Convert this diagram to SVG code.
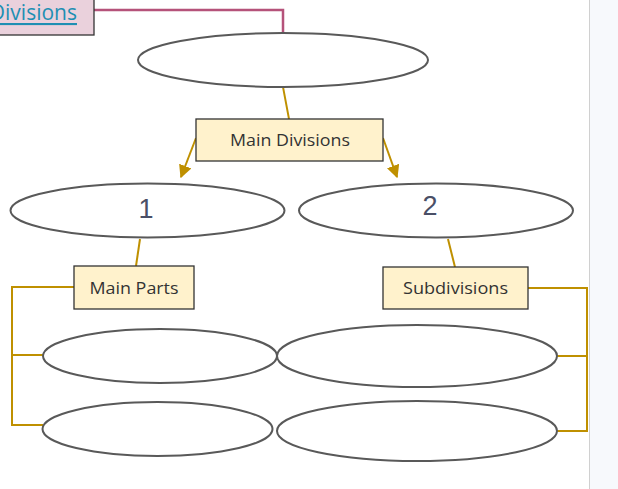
<svg xmlns="http://www.w3.org/2000/svg" width="618" height="489" viewBox="0 0 618 489">
<style>
.ell{fill:#ffffff;stroke:#595959;stroke-width:2}
.box{fill:#fff2cc;stroke:#333333;stroke-width:1.3}
.lbl{font-family:"Open Sans","Noto Sans",sans-serif;font-size:16px;fill:#333333;text-anchor:middle;dominant-baseline:central}
.num{font-family:"Liberation Sans",Arial,sans-serif;font-size:27px;fill:#4a4f66;text-anchor:middle;dominant-baseline:central}
.gold{fill:none;stroke:#bf9000;stroke-width:2}
</style>
<defs>
<marker id="arr" viewBox="0 0 10 10" refX="9" refY="5" markerWidth="6.500" markerHeight="6.500" orient="auto" markerUnits="strokeWidth">
<path d="M0,0 L10,5 L0,10 z" fill="#bf9000"/>
</marker>
</defs>
<rect x="0" y="0" width="618" height="489" fill="#ffffff"/>
<rect x="589.500" y="0" width="29" height="489" fill="#f7f9fc"/>
<line x1="589.500" y1="0" x2="589.500" y2="489" stroke="#d0d0d0" stroke-width="1"/>

<g id="connectors">
<polyline points="94,10 283,10 283,33" fill="none" stroke="#b5527a" stroke-width="2.500"/>
<line x1="283" y1="87" x2="289" y2="119" class="gold"/>
<line x1="196" y1="138" x2="181" y2="177" class="gold" marker-end="url(#arr)"/>
<line x1="383" y1="138" x2="397" y2="177" class="gold" marker-end="url(#arr)"/>
<line x1="140" y1="239" x2="136" y2="266" class="gold"/>
<line x1="448" y1="239" x2="455" y2="267" class="gold"/>
<polyline points="74,287 12,287 12,425 43,425" class="gold"/>
<line x1="12" y1="355" x2="43" y2="355" class="gold"/>
<polyline points="528,288 587,288 587,431 557,431" class="gold"/>
<line x1="587" y1="356" x2="557" y2="356" class="gold"/>
</g>

<g id="divisions-link">
<rect x="-10" y="-10" width="104" height="45" fill="#ead1dc" stroke="#333333" stroke-width="1.3"/>
<text x="77" y="12" font-family="'Open Sans','Noto Sans',sans-serif" font-size="21" fill="#1e8fb3" text-anchor="end" dominant-baseline="central" text-decoration="underline">Divisions</text>
</g>

<g id="top-ellipse"><ellipse cx="283" cy="60" rx="145" ry="27" class="ell"/></g>

<g id="main-divisions">
<rect x="196" y="119" width="187" height="42" class="box"/>
<text x="290" y="140" class="lbl" textLength="120" lengthAdjust="spacingAndGlyphs">Main Divisions</text>
</g>

<g id="ellipse-1"><ellipse cx="147.500" cy="210.500" rx="137" ry="27" class="ell"/><text x="146" y="209" class="num">1</text></g>
<g id="ellipse-2"><ellipse cx="436" cy="210.500" rx="137" ry="27" class="ell"/><text x="430" y="206" class="num">2</text></g>

<g id="main-parts">
<rect x="74" y="266" width="120" height="43" class="box"/>
<text x="134" y="288" class="lbl" textLength="89" lengthAdjust="spacingAndGlyphs">Main Parts</text>
</g>

<g id="subdivisions">
<rect x="383" y="267" width="145" height="42" class="box"/>
<text x="455.500" y="288" class="lbl" textLength="105" lengthAdjust="spacingAndGlyphs">Subdivisions</text>
</g>

<g id="ellipse-3"><ellipse cx="160" cy="356" rx="117" ry="27" class="ell"/></g>
<g id="ellipse-4"><ellipse cx="417" cy="356" rx="140" ry="31" class="ell"/></g>
<g id="ellipse-5"><ellipse cx="157.500" cy="429" rx="115" ry="27" class="ell"/></g>
<g id="ellipse-6"><ellipse cx="417" cy="431" rx="140" ry="30" class="ell"/></g>
</svg>
